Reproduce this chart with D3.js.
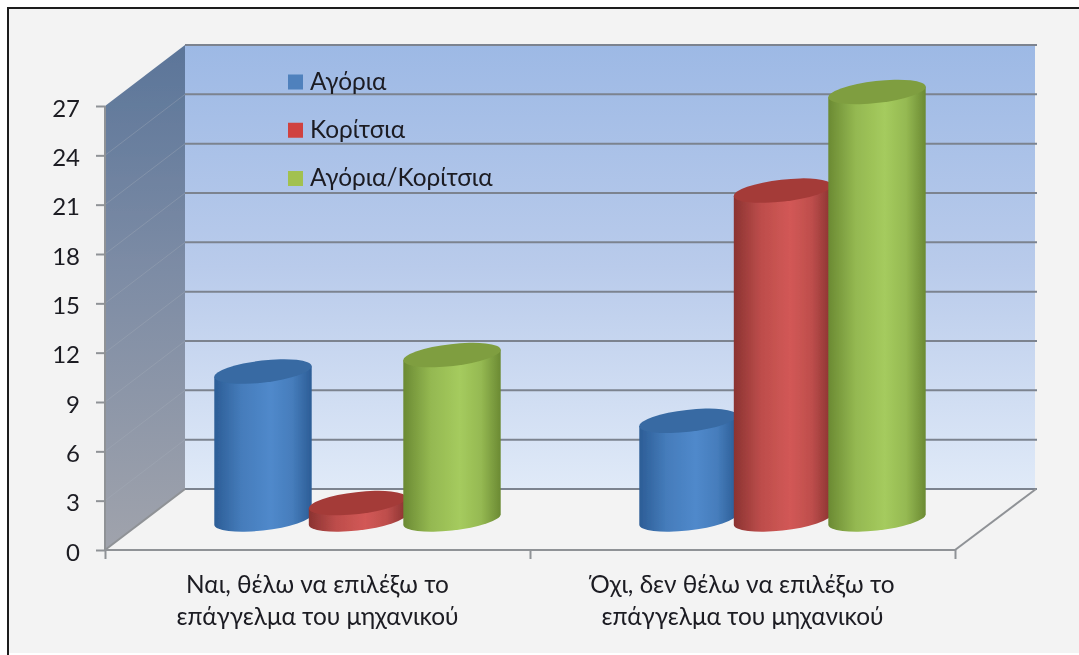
<!DOCTYPE html>
<html><head><meta charset="utf-8">
<script src="https://cdn.jsdelivr.net/npm/d3@7"></script>
<style>
html,body{margin:0;padding:0;background:#fff;overflow:hidden}
text{font-family:Lato,"Open Sans","Noto Sans",sans-serif;fill:#1b1b22}
</style></head><body>
<svg id="c" width="1079" height="655" style="display:block"></svg>
<script>
const categories = [["Ναι, θέλω να επιλέξω το","επάγγελμα του μηχανικού"],["Όχι, δεν θέλω να επιλέξω το","επάγγελμα του μηχανικού"]];
const seriesNames = ["Αγόρια","Κορίτσια","Αγόρια/Κορίτσια"];
const boys = [9,6];
const girls = [1,20];
const both = [10,26];
const yTicks = [0,3,6,9,12,15,18,21,24,27];
const seriesValues = [boys,girls,both];
const palette = [
 {edge:"#2c5d96",mid:"#5089cb",top:"#376aa3",key:"#4f81bd"},
 {edge:"#8b3331",mid:"#d25856",top:"#a43b39",key:"#d0433f"},
 {edge:"#6b8a33",mid:"#a5cb5e",top:"#7f9e40",key:"#a2c14f"}];

const svg = d3.select("#c");
const defs = svg.append("defs");
const soft = defs.append("filter").attr("id","soft")
  .attr("filterUnits","userSpaceOnUse").attr("x",0).attr("y",0).attr("width",1079).attr("height",655);
soft.append("feGaussianBlur").attr("stdDeviation",0.7);

function lin(id,stops,v){
  const g=defs.append("linearGradient").attr("id",id);
  if(v) g.attr("x1",0).attr("x2",0).attr("y1",0).attr("y2",1);
  stops.forEach(s=>g.append("stop").attr("offset",s[0]).attr("stop-color",s[1]));
}
lin("wall",[[0,"#9db9e5"],[0.5,"#b9cbeb"],[1,"#e0eaf8"]],true);
lin("side",[[0,"#5b7599"],[0.45,"#7d8ca5"],[1,"#a0a3ac"]],true);
palette.forEach((p,i)=>lin("cyl"+i,[[0,p.edge],[0.28,d3.interpolateRgb(p.edge,p.mid)(0.7)],[0.58,p.mid],[0.8,d3.interpolateRgb(p.edge,p.mid)(0.72)],[1,p.edge]],false));

const root = svg.append("g").attr("filter","url(#soft)");
// panel background with top and left border only
root.append("rect").attr("x",8).attr("y",8).attr("width",1071).attr("height",645).attr("fill","#f3f3f3");
root.append("path").attr("fill","none").attr("stroke","#1a1a1a").attr("stroke-width",2)
  .attr("d","M8,655V8H1079");

// scales
const y = d3.scaleLinear().domain([0,27]).range([550,106]);
const xCat = d3.scaleBand().domain(d3.range(categories.length)).range([105,955]);
const depthX = 80, depthY = -61, wallRight = 1035;
const xSer = d3.scaleBand().domain(d3.range(seriesNames.length)).range([-141.75,141.75]);

// walls
root.append("rect").attr("x",105+depthX).attr("y",y(27)+depthY).attr("width",wallRight-105-depthX).attr("height",y(0)-y(27)).attr("fill","url(#wall)");
root.append("path").attr("fill","url(#side)")
  .attr("d",d3.line()([[105,y(0)],[105,y(27)],[105+depthX,y(27)+depthY],[105+depthX,y(0)+depthY]]));

// gridlines
const gridC="#7b838f";
root.append("g").selectAll("line").data(yTicks.slice(1,-1)).join("line")
  .attr("x1",105).attr("x2",105+depthX).attr("y1",d=>y(d)).attr("y2",d=>y(d)+depthY)
  .attr("stroke","#a6aebb").attr("stroke-opacity",0.35).attr("stroke-width",1);
root.append("g").selectAll("line").data(yTicks).join("line")
  .attr("x1",105+depthX).attr("x2",wallRight+2).attr("y1",d=>y(d)+depthY).attr("y2",d=>y(d)+depthY)
  .attr("stroke",gridC).attr("stroke-width",2);
// floor edges
root.append("path").attr("fill","none").attr("stroke","#8f9296").attr("stroke-width",2)
  .attr("d",d3.line()([[105,y(0)],[105+depthX,y(0)+depthY]]));
root.append("path").attr("fill","none").attr("stroke","#8f9296").attr("stroke-width",2)
  .attr("d",d3.line()([[955,y(0)],[wallRight+1,y(0)+depthY]]));

// axes
const axY = d3.axisLeft(y).tickValues(yTicks).tickSize(9).tickPadding(16).tickFormat(d3.format("d"));
const gy = root.append("g").attr("transform","translate(105,0)").call(axY);
gy.selectAll("text").style("font-size","24px").attr("dy","0.42em");
gy.selectAll("line").attr("stroke","#8f9296").attr("stroke-width",2);
gy.select(".domain").attr("stroke","#8f9296").attr("stroke-width",2).attr("d","M0,106V550");
const axX = d3.axisBottom(d3.scaleLinear().domain([0,1,2]).range([105,530,955])).tickValues([0,1,2]).tickSize(9).tickFormat("");
const gx = root.append("g").attr("transform",`translate(0,${y(0)})`).call(axX);
gx.selectAll("line").attr("stroke","#8f9296").attr("stroke-width",2);
gx.select(".domain").attr("stroke","#8f9296").attr("stroke-width",2).attr("d","M105,0H955");

// category labels
categories.forEach((lines,i)=>{
  const t=root.append("text").attr("text-anchor","middle").style("font-size","24.4px");
  lines.forEach((l,j)=>t.append("tspan").attr("x",xCat(i)+xCat.bandwidth()/2).attr("y",593+j*32).text(l));
});

// cylinders
const rx=49, ry=11, rot=-6.5*Math.PI/180;
const X=Math.sqrt(rx*rx*Math.cos(rot)**2+ry*ry*Math.sin(rot)**2);
const tilt=(rx*rx-ry*ry)*Math.sin(-rot)*Math.cos(rot)/X; // left end sits lower
const deg=rot*180/Math.PI;
seriesNames.forEach((name,s)=>{
  const g=root.append("g");
  categories.forEach((_,c)=>{
    const cx=xCat(c)+xCat.bandwidth()/2+depthX/2+xSer(s)+xSer.bandwidth()/2;
    const by=y(0)+depthY/2, ty=y(seriesValues[s][c])+depthY/2;
    g.append("path").attr("fill",`url(#cyl${s})`)
      .attr("d",`M${cx-X},${ty+tilt}L${cx-X},${by+tilt}A${rx},${ry} ${deg} 0 0 ${cx+X},${by-tilt}L${cx+X},${ty-tilt}Z`);
    g.append("ellipse").attr("rx",rx).attr("ry",ry).attr("fill",palette[s].top)
      .attr("transform",`translate(${cx},${ty}) rotate(${deg})`);
  });
});

// legend
const legY = d3.scalePoint().domain(seriesNames).range([82,178.5]);
seriesNames.forEach((n,i)=>{
  root.append("rect").attr("x",288).attr("y",legY(n)-7.5).attr("width",15).attr("height",15).attr("fill",palette[i].key);
  root.append("text").attr("x",310).attr("y",legY(n)+7.5).style("font-size","24.4px").text(n);
});
</script></body></html>
